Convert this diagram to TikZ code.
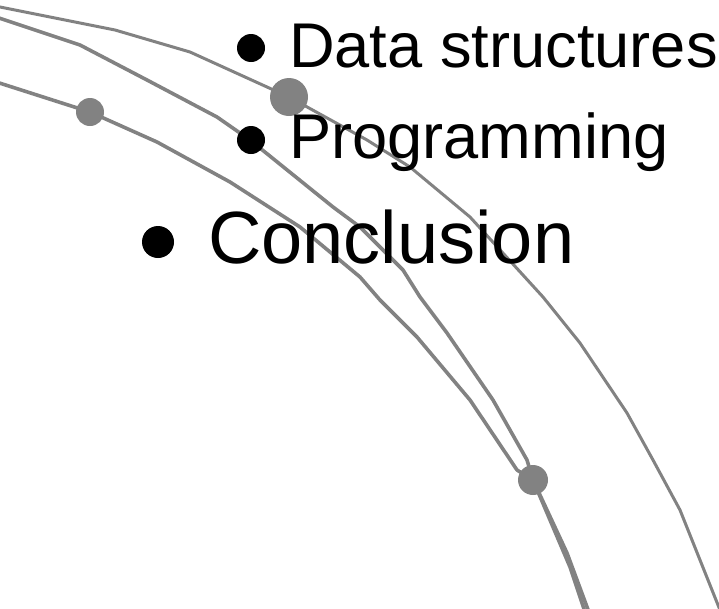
\documentclass[tikz,border=0pt]{standalone}
\usepackage{fontspec}
\setmainfont{Liberation Sans}
\definecolor{arcgray}{HTML}{828282}
\tikzset{
  arcline/.style={draw=arcgray, line width=3.6pt, line join=round, line cap=round},
  knot/.style={circle, fill=arcgray, inner sep=0pt},
  bulletdot/.style={circle, fill=black, inner sep=0pt, minimum size=28pt},
  itemtext/.style={anchor=base west, inner sep=0pt, text=black,
                   font=\fontsize{63.2}{72}\selectfont}}

\begin{document}
\begin{tikzpicture}[x=1pt, y=-1pt]
  \useasboundingbox (0,0) rectangle (719,608);
  \clip (0,0) rectangle (719,608);
  \draw[arcline, line width=3pt] (-10,5) -- (115,30) -- (190,52) -- (289,97) -- (367,140)
    -- (410,167) -- (470,217) -- (543,297) -- (580,343) -- (627,413) -- (653,460)
    -- (680,510) -- (722,615);
  \draw[arcline] (-10,15) -- (80,45) -- (147,80) -- (217,117) -- (250,140) -- (333,207)
    -- (360,227) -- (403,270) -- (420,297) -- (447,333) -- (493,400) -- (527,460)
    -- (533,480) -- (567,553) -- (590,615);
  \draw[arcline] (-10,80) -- (90,112) -- (157,142) -- (230,182) -- (300,227) -- (360,277)
    -- (380,300) -- (417,337) -- (470,400) -- (517,470) -- (533,480) -- (570,567)
    -- (586,615);
  \node[knot, minimum size=38pt] (bigknot) at (289,97) {};
  \node[knot, minimum size=28pt] (leftknot) at (90,112) {};
  \node[knot, minimum size=30pt] (lowknot) at (533,480) {};
  \node[bulletdot] (dotdata) at (251,48) {};
  \node[bulletdot] (dotprog) at (251,140) {};
  \node[bulletdot, minimum size=32pt] (dotconc) at (158,242) {};
  \node[itemtext] (data) at (289,67) {Data structures};
  \node[itemtext] (prog) at (289,158) {Programming};
  \node[itemtext, font=\fontsize{74}{80}\selectfont] (conc) at (208,263) {Conclusion};
\end{tikzpicture}
\end{document}
